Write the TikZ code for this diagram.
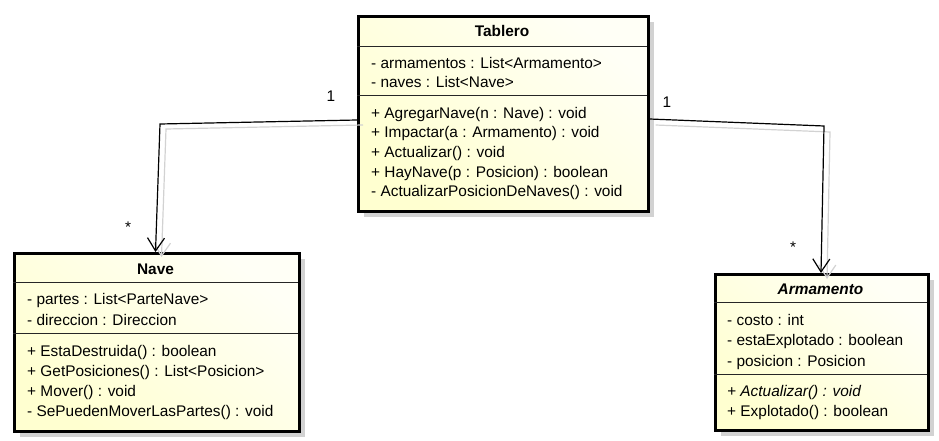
\documentclass[tikz,border=0pt]{standalone}
\usepackage{fontspec}
\setmainfont{Liberation Sans}
\usetikzlibrary{arrows.meta,shadows}
\definecolor{creamA}{HTML}{FFFFF6}
\definecolor{creamB}{HTML}{FFFFD0}
\definecolor{shadowc}{HTML}{D2D2D2}
\begin{document}
\begin{tikzpicture}[x=1pt,y=-1pt,
  classbox/.style={draw=black, line width=2.6pt, rectangle, anchor=north west, inner sep=0pt,
    top color=creamA, bottom color=creamB, shading angle=-40,
    drop shadow={shadow xshift=6pt, shadow yshift=-6pt, fill=shadowc, opacity=1}},
  sepline/.style={line width=1pt, black!85},
  mem/.style={anchor=base west, inner sep=0pt, font=\fontsize{15.4}{18}\selectfont},
  ttl/.style={anchor=base, inner sep=0pt, font=\fontsize{15.4}{18}\selectfont\bfseries},
  mult/.style={anchor=base, inner sep=0pt, font=\fontsize{15.4}{18}\selectfont},
  assoc/.style={line width=1.2pt, black, -{Straight Barb[length=13pt,width=17pt,line width=1.2pt]}},
  assocshadow/.style={line width=1.2pt, shadowc, -{Straight Barb[length=13pt,width=17pt,line width=1.2pt]}},
]
\useasboundingbox (0,0) rectangle (939,441);

% Tablero
\node[classbox, minimum width=290pt, minimum height=195pt] (tab) at (357,15) {};
\draw[sepline] (357,47) -- (647,47);
\draw[sepline] (357,96) -- (647,96);
\node[ttl] (tabT) at (502,37) {Tablero};
\node[mem] (tabA1) at (371,69) {- armamentos : List<Armamento>};
\node[mem] (tabA2) at (371,88) {- naves : List<Nave>};
\node[mem] (tabM1) at (371,118.5) {+ AgregarNave(n : Nave) : void};
\node[mem] (tabM2) at (371,138) {+ Impactar(a : Armamento) : void};
\node[mem] (tabM3) at (371,157.5) {+ Actualizar() : void};
\node[mem] (tabM4) at (371,177) {+ HayNave(p : Posicion) : boolean};
\node[mem] (tabM5) at (371,196.5) {- ActualizarPosicionDeNaves() : void};

% Nave
\node[classbox, minimum width=285pt, minimum height=178pt] (nave) at (13,252) {};
\draw[sepline] (13,282) -- (298,282);
\draw[sepline] (13,333) -- (298,333);
\node[ttl] (naveT) at (155.5,274) {Nave};
\node[mem] (naveA1) at (27,304.5) {- partes : List<ParteNave>};
\node[mem] (naveA2) at (27,325) {- direccion : Direccion};
\node[mem] (naveM1) at (27,356.5) {+ EstaDestruida() : boolean};
\node[mem] (naveM2) at (27,376.5) {+ GetPosiciones() : List<Posicion>};
\node[mem] (naveM3) at (27,396.5) {+ Mover() : void};
\node[mem] (naveM4) at (27,416.5) {- SePuedenMoverLasPartes() : void};

% Armamento
\node[classbox, minimum width=213pt, minimum height=156pt] (arm) at (714,273) {};
\draw[sepline] (714,302) -- (927,302);
\draw[sepline] (714,374) -- (927,374);
\node[ttl, font=\fontsize{15.4}{18}\selectfont\bfseries\itshape] (armT) at (820.5,294) {Armamento};
\node[mem] (armA1) at (727,325) {- costo : int};
\node[mem] (armA2) at (727,345.5) {- estaExplotado : boolean};
\node[mem] (armA3) at (727,366) {- posicion : Posicion};
\node[mem, font=\fontsize{15.4}{18}\selectfont\itshape] (armM1) at (727,396) {+ Actualizar() : void};
\node[mem] (armM2) at (727,416) {+ Explotado() : boolean};

% connectors
\coordinate (lbend) at (160,124);
\coordinate (rbend) at (824,126);
\draw[assocshadow, transform canvas={xshift=6pt,yshift=-5pt}]
  ([yshift=-105pt]tab.north west) -- (lbend) -- ([xshift=142.5pt]nave.north west);
\draw[assocshadow, transform canvas={xshift=6pt,yshift=-6pt}]
  ([yshift=-104pt]tab.north east) -- (rbend) -- ([xshift=107pt]arm.north west);
\draw[assoc] ([yshift=-105pt]tab.north west) -- (lbend) -- ([xshift=142.5pt]nave.north west);
\draw[assoc] ([yshift=-104pt]tab.north east) -- (rbend) -- ([xshift=107pt]arm.north west);

\node[mult] (m1) at (331,102) {1};
\node[mult] (m2) at (128,232) {*};
\node[mult] (m3) at (667,108) {1};
\node[mult] (m4) at (793,252) {*};
\end{tikzpicture}
\end{document}
